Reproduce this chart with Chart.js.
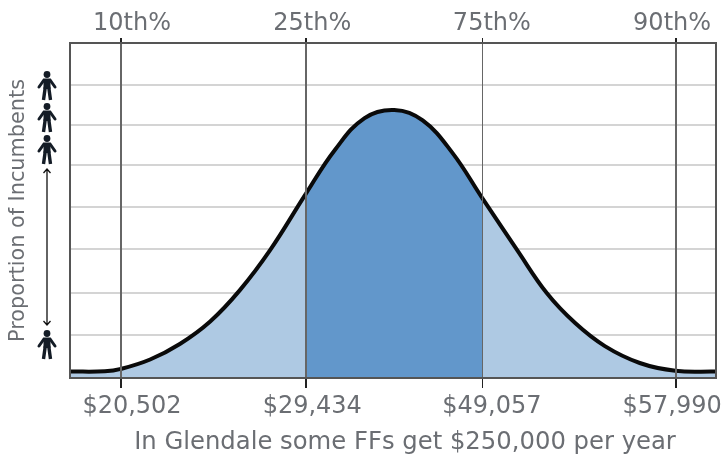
<!DOCTYPE html>
<html>
<head>
<meta charset="utf-8">
<style>
  html, body { margin: 0; padding: 0; background: #fff; }
  #wrap { width: 722px; height: 456px; }
</style>
<script src="https://cdn.jsdelivr.net/npm/chart.js@4/dist/chart.umd.min.js"></script>
</head>
<body>
<div id="wrap"><canvas id="bell"></canvas></div>
<script>
// Bell curve, x as % of axis width, y as % of the peak height
const curveX = [0, 5.4, 7.9, 12.4, 17, 21.7, 26.3, 31, 36.5, 41, 45.6, 50.2, 54.6, 59.2, 63.8, 69.2, 73.8, 78.2, 82.8, 88.2, 93.7, 100];
const curveY = [2.4, 2.5, 3.4, 6.9, 12.7, 21.1, 32.8, 47.8, 68.7, 85.1, 97, 100, 96.1, 84, 67.2, 47.8, 31.7, 20.5, 11.9, 5.6, 2.7, 2.4];

// the vertical lines and the labels do not sit at the same spot in the original
const percentileX = [7.9, 36.5, 63.8, 93.8];
const labelX = [9.6, 37.5, 65.3, 93.2];
const percentileLabels = ['10th%', '25th%', '75th%', '90th%'];
const salaryLabels = ['$20,502', '$29,434', '$49,057', '$57,990'];
const gridY = [16, 31.7, 48.1, 63.8, 79.5, 94.4, 109.3];

const caption = 'In Glendale some FFs get $250,000 per year';
const yTitle = 'Proportion of Incumbents';

const textColor = '#6b6e73';
const font = { family: '"DejaVu Sans", sans-serif', size: 24 };
const lightBlue = '#aec9e3';
const darkBlue = '#6297cb';

const setTicks = (values) => (scale) => {
    scale.ticks = values.map(v => ({ value: v }));
};
const sizeX = (h) => (scale) => {
    scale.height = h;
    scale.paddingLeft = 0;
    scale.paddingRight = 0;
};
const xTicks = [...percentileX, ...labelX].sort((a, b) => a - b);
const tickText = (labels) => (v) => {
    const i = labelX.indexOf(v);
    return i < 0 ? '' : labels[i];
};
const lineWidthAt = (c) => {
    const i = percentileX.indexOf(c.tick.value);
    if (i < 0) return 0;
    return i === 2 ? 1 : 2;
};

// little person icon next to the y axis
function person(ctx, cx, top) {
    ctx.save();
    ctx.fillStyle = '#141c26';
    ctx.strokeStyle = '#141c26';
    ctx.beginPath();
    ctx.arc(cx, top + 3.5, 3.4, 0, Math.PI * 2);
    ctx.fill();
    ctx.lineCap = 'round';
    ctx.lineWidth = 3;
    ctx.beginPath();
    ctx.moveTo(cx - 8, top + 16);
    ctx.lineTo(cx - 3, top + 9);
    ctx.lineTo(cx + 3, top + 9);
    ctx.lineTo(cx + 8, top + 16);
    ctx.stroke();
    ctx.lineWidth = 7;
    ctx.lineCap = 'butt';
    ctx.beginPath();
    ctx.moveTo(cx, top + 8);
    ctx.lineTo(cx, top + 18);
    ctx.stroke();
    ctx.lineWidth = 3.4;
    ctx.beginPath();
    ctx.moveTo(cx - 1.7, top + 16);
    ctx.lineTo(cx - 3.5, top + 29);
    ctx.moveTo(cx + 1.7, top + 16);
    ctx.lineTo(cx + 3.5, top + 29);
    ctx.stroke();
    ctx.restore();
}

function arrow(ctx, cx, y1, y2) {
    ctx.save();
    ctx.strokeStyle = '#111';
    ctx.lineWidth = 1.3;
    ctx.beginPath();
    ctx.moveTo(cx, y1);
    ctx.lineTo(cx, y2);
    ctx.moveTo(cx - 3.5, y1 + 4);
    ctx.lineTo(cx, y1);
    ctx.lineTo(cx + 3.5, y1 + 4);
    ctx.moveTo(cx - 3.5, y2 - 4);
    ctx.lineTo(cx, y2);
    ctx.lineTo(cx + 3.5, y2 - 4);
    ctx.stroke();
    ctx.restore();
}

const decorations = {
    id: 'decorations',
    afterDraw(chart) {
        const ctx = chart.ctx;
        const area = chart.chartArea;
        ctx.save();
        ctx.strokeStyle = '#555';
        ctx.lineWidth = 2;
        ctx.strokeRect(area.left, area.top, area.right - area.left, area.bottom - area.top);
        ctx.restore();

        [71, 103, 135, 330].forEach(top => person(ctx, 47, top));
        arrow(ctx, 47, 169, 325);

        ctx.save();
        ctx.fillStyle = textColor;
        ctx.font = `24.3px ${font.family}`;
        ctx.textAlign = 'center';
        ctx.textBaseline = 'alphabetic';
        ctx.fillText(caption, 405, 449);
        ctx.restore();
    }
};

const inMiddle = (c) => c.p0.parsed.x >= percentileX[1] && c.p1.parsed.x <= percentileX[2];

new Chart(document.getElementById('bell'), {
    type: 'line',
    data: {
        datasets: [{
            data: curveX.map((x, i) => ({ x: x, y: curveY[i] })),
            borderColor: '#0a0a0a',
            borderWidth: 4,
            backgroundColor: lightBlue,
            fill: 'origin',
            pointRadius: 0,
            tension: 0.4,
            segment: {
                backgroundColor: (c) => inMiddle(c) ? darkBlue : lightBlue
            }
        }]
    },
    options: {
        responsive: true,
        maintainAspectRatio: false,
        animation: false,
        layout: { padding: 0 },
        plugins: { legend: { display: false }, tooltip: { enabled: false } },
        scales: {
            x: {
                type: 'linear',
                position: 'bottom',
                min: 0,
                max: 100,
                afterBuildTicks: setTicks(xTicks),
                afterFit: sizeX(78),
                border: { display: false },
                grid: {
                    z: 1,
                    color: '#666',
                    tickColor: '#222',
                    tickLength: 10,
                    lineWidth: lineWidthAt
                },
                ticks: {
                    autoSkip: false,
                    maxRotation: 0,
                    color: textColor,
                    font: font,
                    padding: 4,
                    callback: tickText(salaryLabels)
                }
            },
            xTop: {
                type: 'linear',
                position: 'top',
                min: 0,
                max: 100,
                afterBuildTicks: setTicks(xTicks),
                afterFit: sizeX(43),
                border: { display: false },
                grid: {
                    drawOnChartArea: false,
                    tickColor: '#222',
                    tickLength: 5,
                    lineWidth: lineWidthAt
                },
                ticks: {
                    autoSkip: false,
                    maxRotation: 0,
                    color: textColor,
                    font: font,
                    padding: 0,
                    callback: tickText(percentileLabels)
                }
            },
            y: {
                min: 0,
                max: 125,
                afterBuildTicks: setTicks(gridY),
                afterFit: (scale) => { scale.width = 70; },
                border: { display: false },
                grid: { color: '#d4d4d4', lineWidth: 2, drawTicks: false },
                ticks: { display: false },
                title: {
                    display: true,
                    text: yTitle,
                    color: textColor,
                    font: { family: font.family, size: 20.8 },
                    padding: { top: 6, bottom: 0 }
                }
            },
            yRight: {
                position: 'right',
                min: 0,
                max: 125,
                afterFit: (scale) => { scale.width = 6; },
                border: { display: false },
                grid: { display: false, drawTicks: false },
                ticks: { display: false }
            }
        }
    },
    plugins: [decorations]
});
</script>
</body>
</html>
